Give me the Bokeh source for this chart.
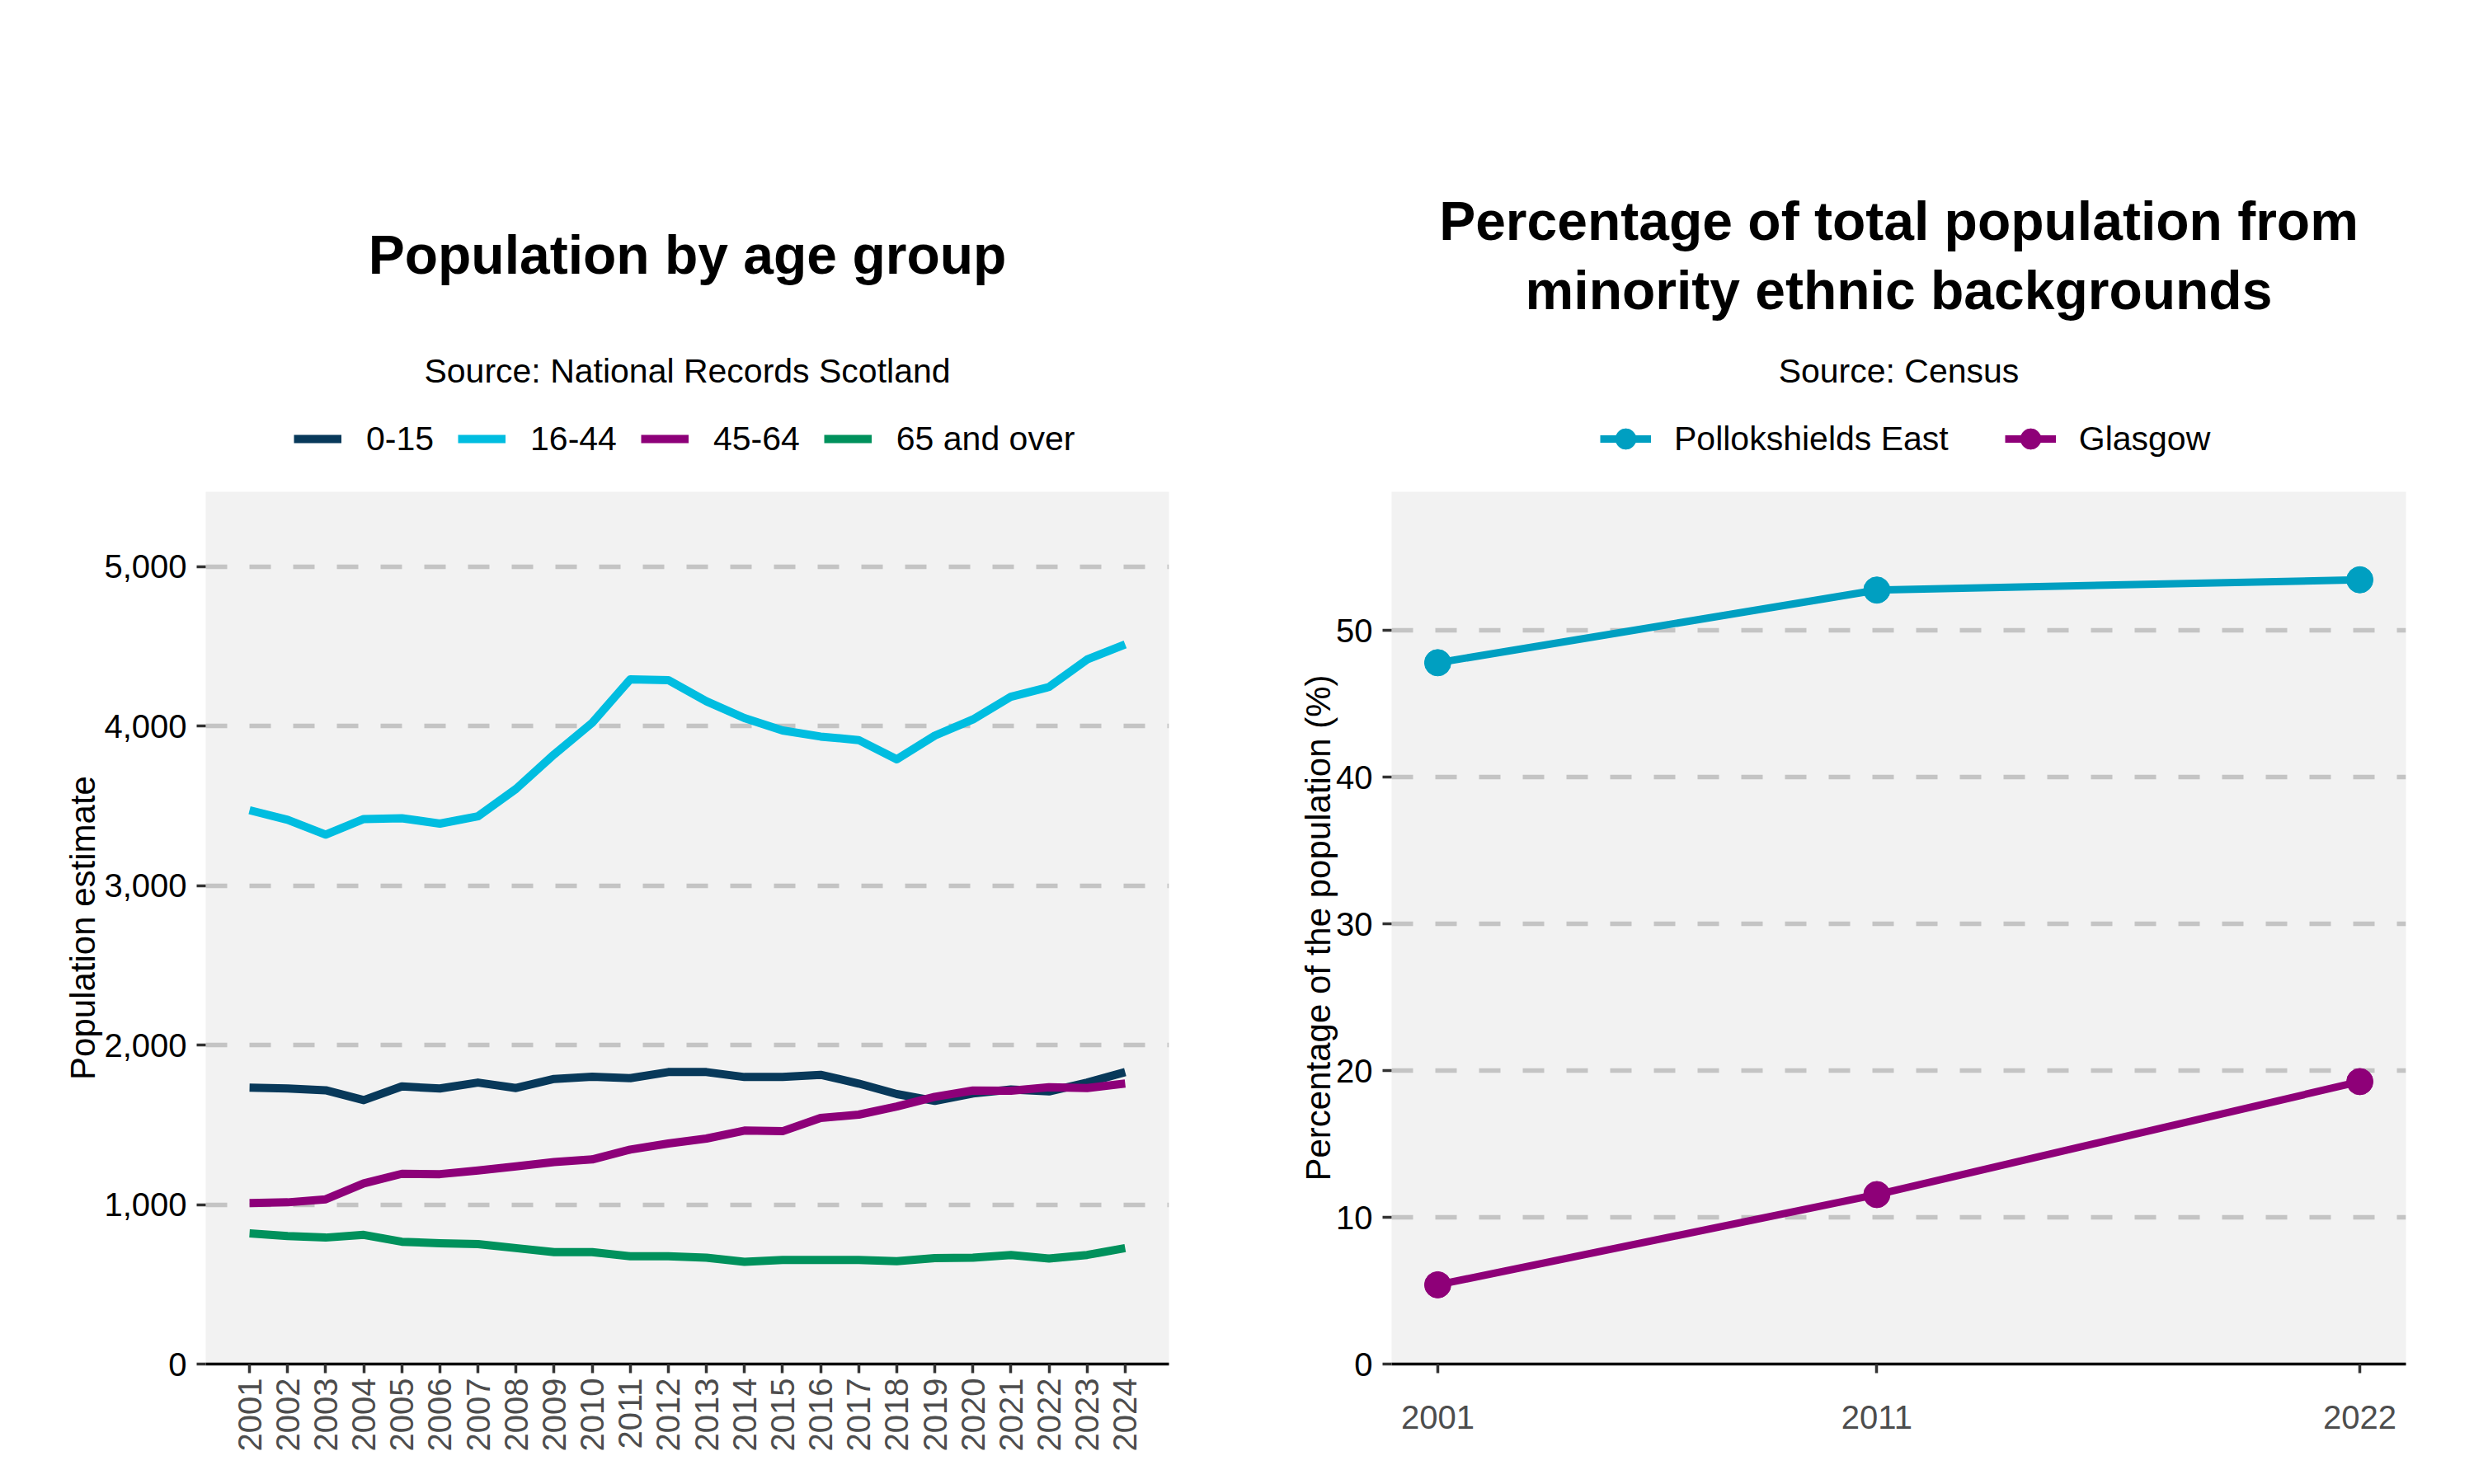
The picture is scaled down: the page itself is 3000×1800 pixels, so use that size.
import math
from bokeh.plotting import figure
from bokeh.models import (FixedTicker, NumeralTickFormatter, Legend, LegendItem,
                          Label, Range1d)
from bokeh.layouts import row, column
from bokeh.embed import file_html
from bokeh.resources import INLINE

# ---------------- data ----------------
years = list(range(2001, 2025))
age_groups = ["0-15", "16-44", "45-64", "65 and over"]
pop_0_15 = [1733, 1728, 1717, 1655, 1741, 1728, 1765, 1731, 1788, 1802, 1793, 1831,
            1831, 1800, 1800, 1814, 1759, 1693, 1650, 1697, 1722, 1710, 1765, 1831]
pop_16_44 = [3473, 3413, 3320, 3418, 3423, 3389, 3435, 3607, 3823, 4021, 4294, 4289,
             4156, 4051, 3973, 3935, 3913, 3792, 3941, 4042, 4185, 4246, 4418, 4513]
pop_45_64 = [1010, 1014, 1033, 1133, 1193, 1191, 1214, 1240, 1267, 1283, 1345, 1383,
             1414, 1464, 1460, 1543, 1564, 1615, 1676, 1715, 1714, 1736, 1731, 1759]
pop_65_over = [819, 803, 793, 810, 767, 757, 752, 727, 702, 702, 676, 676,
               667, 641, 653, 653, 653, 645, 664, 667, 684, 662, 684, 727]
pop_yticks = [0, 1000, 2000, 3000, 4000, 5000]

census_years = [2001, 2011, 2022]
areas = ["Pollokshields East", "Glasgow"]
pollokshields_east = [47.8, 52.75, 53.45]
glasgow = [5.4, 11.55, 19.25]
pct_yticks = [0, 10, 20, 30, 40, 50]

# ---------------- style ----------------
FONT = "Liberation Sans"
HEAD_H = 596          # header (titles + legend) height
HEAD_TOP = 60         # requested empty strip above the header frame
HEAD_FRAME_TOP = 111  # where the header frame actually begins
FRAME_H = 1058        # plotting frame height
BOTTOM = 138          # room for x tick labels
W1, W2 = 1508, 1484
L1, R1 = 249, W1 - 1417             # left panel borders
L2, R2 = 1687 - W1, W1 + W2 - 2917  # right panel borders

age_colors = ["#08395A", "#00BDE0", "#8D0079", "#00915C"]
area_colors = ["#009FC1", "#8E0078"]


def style(p, yticks, rotate_x, x_standoff):
    p.background_fill_color = "#F2F2F2"
    p.border_fill_color = "white"
    p.outline_line_color = None
    p.xgrid.grid_line_color = None
    p.ygrid.ticker = FixedTicker(ticks=yticks)
    p.ygrid.grid_line_color = "#C4C4C4"
    p.ygrid.grid_line_width = 5.5
    p.ygrid.grid_line_dash = "26 27"
    ya = p.yaxis[0]
    ya.ticker = FixedTicker(ticks=yticks)
    ya.axis_line_color = None
    ya.major_tick_line_color = "#333333"
    ya.major_tick_line_width = 3.5
    ya.major_tick_out = 11
    ya.major_tick_in = 0
    ya.minor_tick_line_color = None
    ya.major_label_text_font = FONT
    ya.major_label_text_font_size = "40px"
    ya.major_label_text_color = "black"
    ya.major_label_standoff = 12
    ya.axis_label_text_font = FONT
    ya.axis_label_text_font_size = "42px"
    ya.axis_label_text_font_style = "normal"
    ya.axis_label_text_color = "black"
    xa = p.xaxis[0]
    xa.axis_line_color = "black"
    xa.axis_line_width = 3.5
    xa.major_tick_line_color = "#333333"
    xa.major_tick_line_width = 3.5
    xa.major_tick_out = 11
    xa.major_tick_in = 0
    xa.minor_tick_line_color = None
    xa.major_label_text_font = FONT
    xa.major_label_text_font_size = "40px"
    xa.major_label_text_color = "#4D4D4D"
    xa.major_label_standoff = x_standoff
    if rotate_x:
        xa.major_label_orientation = math.pi / 2


def header(width, left, right):
    # ranges chosen so that data units equal canvas pixels of the header
    h = figure(width=width, height=HEAD_H,
               x_range=Range1d(left, width - right),
               y_range=Range1d(HEAD_H, HEAD_FRAME_TOP), output_backend="svg",
               toolbar_location=None, x_axis_type=None, y_axis_type=None,
               min_border=0, min_border_left=left, min_border_right=right,
               min_border_top=HEAD_TOP, min_border_bottom=0, title_location=None)
    h.grid.visible = False
    h.outline_line_color = None
    h.background_fill_color = "white"
    h.border_fill_color = "white"
    return h


def add_text(h, text, x, y, size, bold=False):
    h.add_layout(Label(x=x, y=y, text=text, text_align="center",
                       text_baseline="alphabetic", text_font=FONT,
                       text_font_size=size,
                       text_font_style="bold" if bold else "normal",
                       text_color="black"))


def make_legend(items, x, center_y, gw, gh, spacing, standoff):
    return Legend(items=items, location=(x, HEAD_H - center_y - gh / 2),
                  orientation="horizontal", glyph_width=gw, glyph_height=gh,
                  label_standoff=standoff, spacing=spacing, padding=0, margin=0,
                  border_line_color=None, background_fill_alpha=0,
                  label_text_font=FONT, label_text_font_size="41px",
                  label_text_color="black", label_height=gh)


# ---------------- left: population by age group ----------------
p1 = figure(width=W1, height=FRAME_H + BOTTOM, x_range=Range1d(1999.85, 2025.15),
            y_range=Range1d(0, 5470), output_backend="svg", toolbar_location=None,
            min_border_left=L1, min_border_right=R1, min_border_top=0,
            min_border_bottom=BOTTOM, title_location=None)
style(p1, pop_yticks, True, 6)
p1.xaxis[0].ticker = FixedTicker(ticks=years)
p1.yaxis[0].formatter = NumeralTickFormatter(format="0,0")
p1.yaxis[0].axis_label = "Population estimate"
p1.yaxis[0].axis_label_standoff = -1

series = [pop_0_15, pop_16_44, pop_45_64, pop_65_over]
h1 = header(W1, L1, R1)
items1 = []
for name, vals, col in zip(age_groups, series, age_colors):
    p1.line(years, vals, line_color=col, line_width=10, line_join="round")
    key = h1.line(x=[math.nan], y=[math.nan], line_color=col, line_width=10)
    items1.append(LegendItem(label=name, renderers=[key]))

h1.add_layout(make_legend(items1, 356 - L1, 532, 58, 48, 29, 30))
add_text(h1, "Population by age group", 833, 336, "66px", bold=True)
add_text(h1, "Source: National Records Scotland", 833, 463, "41px")

# ---------------- right: minority ethnic percentage ----------------
p2 = figure(width=W2, height=FRAME_H + BOTTOM, x_range=Range1d(1999.95, 2023.05),
            y_range=Range1d(0, 59.45), output_backend="svg", toolbar_location=None,
            min_border_left=L2, min_border_right=R2,
            min_border_top=0, min_border_bottom=BOTTOM, title_location=None)
style(p2, pct_yticks, False, 39)
p2.xaxis[0].ticker = FixedTicker(ticks=census_years)
p2.yaxis[0].axis_label = "Percentage of the population (%)"
p2.yaxis[0].axis_label_standoff = -5

h2 = header(W2, L2, R2)
items2 = []
for name, vals, col in zip(areas, [pollokshields_east, glasgow], area_colors):
    p2.line(census_years, vals, line_color=col, line_width=9, line_join="round")
    p2.scatter(census_years, vals, size=32, fill_color=col, line_color=col)
    kl = h2.line(x=[math.nan], y=[math.nan], line_color=col, line_width=9)
    ks = h2.scatter(x=[math.nan], y=[math.nan], fill_color=col, line_color=col)
    items2.append(LegendItem(label=name, renderers=[kl, ks]))

h2.add_layout(make_legend(items2, 1940 - W1 - L2, 532, 62, 62, 68, 28))
add_text(h2, "Percentage of total population from", 2302 - W1, 299, "66px", bold=True)
add_text(h2, "minority ethnic backgrounds", 2302 - W1, 375, "66px", bold=True)
add_text(h2, "Source: Census", 2302 - W1, 463, "41px")

layout = row(column(h1, p1, spacing=0), column(h2, p2, spacing=0), spacing=0)
open("out.html", "w").write(file_html(layout, INLINE))
